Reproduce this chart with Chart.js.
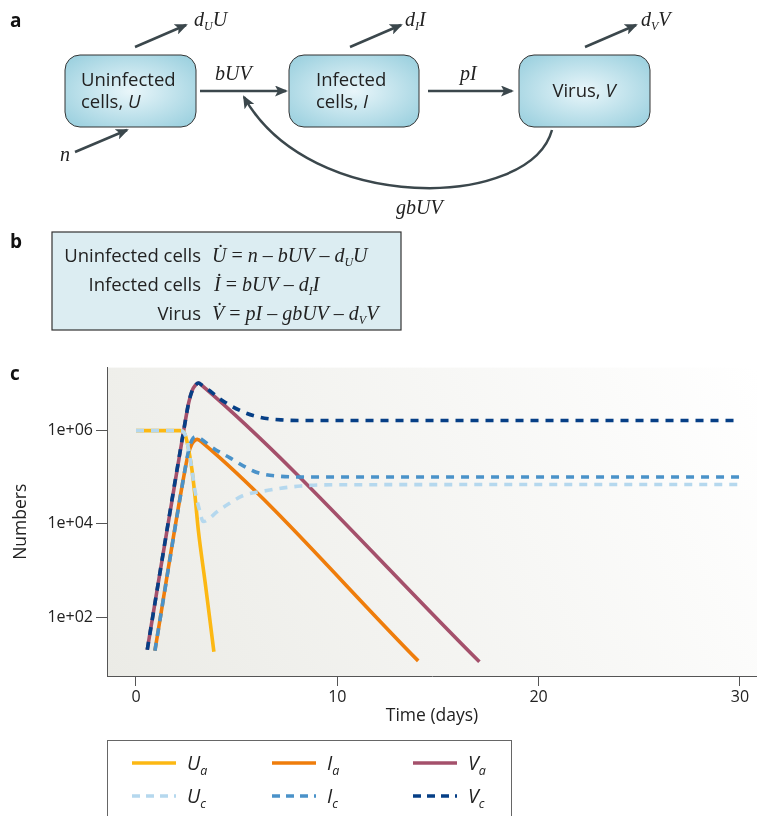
<!DOCTYPE html>
<html>
<head>
<meta charset="utf-8">
<script src="https://cdn.jsdelivr.net/npm/chart.js@4/dist/chart.umd.min.js"></script>
<style>
  html, body { margin: 0; padding: 0; background: #fff; }
  body { width: 757px; height: 816px; position: relative; overflow: hidden; }
  #chart { position: absolute; left: 0; top: 355px; z-index: 1; }
  #art { position: absolute; left: 0; top: 0; z-index: 2; }
  .sans { font-family: "Open Sans", sans-serif; fill: #222; }
  .m { font-family: "Liberation Serif", serif; font-style: italic; fill: #222; }
  .up { font-style: normal; }
  .lab { font-family: "Open Sans", sans-serif; font-weight: bold; font-size: 19px; fill: #111; }
</style>
</head>
<body>
<canvas id="chart" width="757" height="380"></canvas>

<svg id="art" width="757" height="816">
  <defs>
    <radialGradient id="boxg" cx="50%" cy="50%" r="62%">
      <stop offset="0" stop-color="#e9f6fa"/>
      <stop offset="1" stop-color="#9fd2e0"/>
    </radialGradient>
    <marker id="ah" markerWidth="13" markerHeight="11" refX="11" refY="5.5" orient="auto" markerUnits="userSpaceOnUse">
      <path d="M0,0 L13,5.5 L0,11 L3,5.5 z" fill="#3b474c"/>
    </marker>
  </defs>

  <!-- panel a -->
  <text class="lab" x="10" y="27">a</text>
  <rect x="65" y="55" width="131" height="72" rx="15" fill="url(#boxg)" stroke="#333" stroke-width="1"/>
  <rect x="289" y="55" width="130" height="72" rx="15" fill="url(#boxg)" stroke="#333" stroke-width="1"/>
  <rect x="519" y="55" width="131" height="72" rx="15" fill="url(#boxg)" stroke="#333" stroke-width="1"/>
  <text class="sans" x="81" y="86" font-size="18.5">Uninfected</text>
  <text class="sans" x="81" y="108" font-size="18.5">cells, <tspan font-style="italic">U</tspan></text>
  <text class="sans" x="316" y="86" font-size="18.5">Infected</text>
  <text class="sans" x="316" y="108" font-size="18.5">cells, <tspan font-style="italic">I</tspan></text>
  <text class="sans" x="584" y="97" font-size="18.5" text-anchor="middle">Virus, <tspan font-style="italic">V</tspan></text>

  <g stroke="#3b474c" stroke-width="2.5" fill="none" marker-end="url(#ah)">
    <line x1="200" y1="91" x2="286" y2="91"/>
    <line x1="428" y1="91" x2="512" y2="91"/>
    <line x1="135" y1="47" x2="186" y2="25"/>
    <line x1="350" y1="47" x2="401" y2="25"/>
    <line x1="585" y1="47" x2="636" y2="25"/>
    <line x1="75" y1="152" x2="127" y2="130"/>
    <path d="M552,130 C530,210 310,215 244,97"/>
  </g>
  <text class="m" x="215" y="80" font-size="20">bUV</text>
  <text class="m" x="460" y="80" font-size="20">pI</text>
  <text class="m" x="396" y="214" font-size="20">gbUV</text>
  <text class="m" x="60" y="161" font-size="20">n</text>
  <text class="m" x="194" y="26" font-size="20">d<tspan font-size="12" dy="4">U</tspan><tspan dy="-4">U</tspan></text>
  <text class="m" x="405" y="26" font-size="20">d<tspan font-size="12" dy="4">I</tspan><tspan dy="-4">I</tspan></text>
  <text class="m" x="641" y="26" font-size="20">d<tspan font-size="12" dy="4">V</tspan><tspan dy="-4">V</tspan></text>

  <!-- panel b -->
  <text class="lab" x="10" y="248">b</text>
  <rect x="52" y="232" width="349" height="98" fill="#dcedf2" stroke="#333" stroke-width="1.2"/>
  <text class="sans" x="201" y="262" font-size="18.5" text-anchor="end">Uninfected cells</text>
  <text class="sans" x="201" y="291" font-size="18.5" text-anchor="end">Infected cells</text>
  <text class="sans" x="201" y="320" font-size="18.5" text-anchor="end">Virus</text>
  <text class="m" x="212" y="262" font-size="20">U&#775;<tspan class="up"> = </tspan>n<tspan class="up"> – </tspan>bUV<tspan class="up"> – </tspan>d<tspan font-size="12" dy="4">U</tspan><tspan dy="-4">U</tspan></text>
  <text class="m" x="214" y="291" font-size="20">&#304;<tspan class="up"> = </tspan>bUV<tspan class="up"> – </tspan>d<tspan font-size="12" dy="4">I</tspan><tspan dy="-4">I</tspan></text>
  <text class="m" x="212" y="320" font-size="20">V&#775;<tspan class="up"> = </tspan>pI<tspan class="up"> – </tspan>gbUV<tspan class="up"> – </tspan>d<tspan font-size="12" dy="4">V</tspan><tspan dy="-4">V</tspan></text>

  <!-- panel c label -->
  <text class="lab" x="10" y="380">c</text>

  <!-- legend -->
  <g id="legend"></g>
</svg>

<script>
// ── Data (time in days, numbers on a log scale) ────────────────────────────
const tUa = [0, 2.19, 2.4, 2.52, 2.77, 2.93, 3.1, 3.43, 3.87];
const Ua = [1.0e6, 1.0e6, 8.9e5, 6.2e5, 1.55e5, 4.0e4, 7.1e3, 5.8e2, 18];

const tUc = [0, 2.19, 2.4, 2.52, 2.77, 2.93, 3.15, 3.34, 3.6, 4.0, 4.67, 5.3, 6.5, 8.2, 10, 30];
const Uc = [1.0e6, 1.0e6, 8.9e5, 6.2e5, 1.55e5, 5.2e4, 2.0e4, 1.12e4, 1.26e4, 1.78e4, 2.8e4, 4.0e4, 5.2e4, 6.5e4, 6.9e4, 7.0e4];

const tIa = [0.94, 2.4, 2.6, 2.78, 2.95, 3.05, 3.3, 14.02];
const Ia = [19, 1.2e5, 3.2e5, 5.2e5, 6.3e5, 6.5e5, 5.5e5, 11.5];

const tIc = [0.94, 2.4, 2.6, 2.78, 2.95, 3.1, 3.3, 3.84, 4.67, 5.5, 6.1, 7.15, 8.5, 30];
const Ic = [19, 1.2e5, 3.5e5, 6.3e5, 7.4e5, 7.2e5, 6.3e5, 4.2e5, 2.6e5, 1.6e5, 1.23e5, 1.05e5, 1.01e5, 1.01e5];

const tVa = [0.56, 2.4, 2.62, 2.8, 2.95, 3.1, 3.3, 17.06];
const Va = [20, 1.2e6, 4.0e6, 7.4e6, 9.4e6, 1.05e7, 9.1e6, 11];

const tVc = [0.56, 2.4, 2.62, 2.8, 2.95, 3.1, 3.3, 3.68, 4.17, 5.17, 6.0, 7.2, 8.5, 30];
const Vc = [20, 1.2e6, 4.0e6, 7.4e6, 9.4e6, 1.05e7, 9.3e6, 7.1e6, 4.8e6, 2.7e6, 2.0e6, 1.7e6, 1.65e6, 1.65e6];

const xTicks = [0, 10, 20, 30];
const yTicks = [1e2, 1e4, 1e6];
const yTickLabels = ["1e+02", "1e+04", "1e+06"];

const COLORS = {
  Ua: "#fcb813",
  Uc: "#b5d8ee",
  Ia: "#ef7d0b",
  Ic: "#4a92c9",
  Va: "#a4506b",
  Vc: "#063f86",
  axis: "#555",
  text: "#222",
};

const SERIES = [
  { key: "Ua", name: "U", sub: "a", t: tUa, v: Ua, dashed: false },
  { key: "Ia", name: "I", sub: "a", t: tIa, v: Ia, dashed: false },
  { key: "Va", name: "V", sub: "a", t: tVa, v: Va, dashed: false },
  { key: "Uc", name: "U", sub: "c", t: tUc, v: Uc, dashed: true },
  { key: "Ic", name: "I", sub: "c", t: tIc, v: Ic, dashed: true },
  { key: "Vc", name: "V", sub: "c", t: tVc, v: Vc, dashed: true },
];

Chart.defaults.font.family = "'Open Sans', sans-serif";
Chart.defaults.color = COLORS.text;

// light grey-to-white wash behind the plot
const plotBackground = {
  id: "plotBackground",
  beforeDraw(chart) {
    const { ctx, chartArea: a } = chart;
    const g = ctx.createLinearGradient(a.left, a.bottom, a.right, a.top);
    g.addColorStop(0, "#ebebe6");
    g.addColorStop(1, "#ffffff");
    ctx.save();
    ctx.fillStyle = g;
    ctx.fillRect(a.left, a.top, a.right - a.left, a.bottom - a.top);
    ctx.restore();
  },
};

const datasets = SERIES.map((s) => ({
  label: s.name + s.sub,
  data: s.t.map((t, i) => ({ x: t, y: s.v[i] })),
  borderColor: COLORS[s.key],
  borderWidth: 3.6,
  borderDash: s.dashed ? [8, 7] : [],
  borderCapStyle: "butt",
  pointRadius: 0,
  fill: false,
  cubicInterpolationMode: "monotone",
  order: s.dashed ? 0 : 1,
}));

new Chart(document.getElementById("chart"), {
  type: "line",
  data: { datasets },
  plugins: [plotBackground],
  options: {
    responsive: false,
    animation: false,
    devicePixelRatio: 1,
    layout: { padding: { top: 8, right: 0, bottom: 0, left: 0 } },
    plugins: { legend: { display: false }, tooltip: { enabled: false } },
    scales: {
      x: {
        type: "linear",
        min: -1.44,
        max: 30.85,
        afterBuildTicks: (s) => { s.ticks = xTicks.map((v) => ({ value: v })); },
        afterFit: (s) => { s.height = 59; },
        ticks: { font: { size: 16 }, padding: 2, maxRotation: 0, autoSkip: false, color: COLORS.text },
        grid: { display: true, drawOnChartArea: false, drawTicks: true, tickLength: 10, color: COLORS.axis },
        border: { display: true, color: COLORS.axis, width: 1 },
        title: { display: true, text: "Time (days)", font: { size: 17.5 }, color: COLORS.text, padding: { top: 0, bottom: 8 } },
      },
      y: {
        type: "logarithmic",
        min: 5.45,
        max: 2.25e7,
        afterBuildTicks: (s) => { s.ticks = yTicks.map((v) => ({ value: v })); },
        afterFit: (s) => { s.width = 107; },
        ticks: { font: { size: 16 }, padding: 3, color: COLORS.text, callback: (v, i) => yTickLabels[i] },
        grid: { display: true, drawOnChartArea: false, drawTicks: true, tickLength: 11, color: COLORS.axis },
        border: { display: true, color: COLORS.axis, width: 1 },
        title: { display: true, text: "Numbers", font: { size: 17.5 }, color: COLORS.text, padding: { top: 11, bottom: 0 } },
      },
    },
  },
});

// ── Legend (drawn as SVG so the subscripts stay real text) ─────────────────
const NS = "http://www.w3.org/2000/svg";
const leg = document.getElementById("legend");
function el(tag, attrs, parent) {
  const e = document.createElementNS(NS, tag);
  for (const k in attrs) e.setAttribute(k, attrs[k]);
  parent.appendChild(e);
  return e;
}
el("rect", { x: 107.5, y: 740.5, width: 404, height: 100, fill: "#fff", stroke: "#666", "stroke-width": 1 }, leg);
const colX = [132, 272, 413];
const rowY = [763, 796];
SERIES.forEach((s, i) => {
  const cx = colX[i % 3];
  const cy = rowY[s.dashed ? 1 : 0];
  el("line", {
    x1: cx, y1: cy, x2: cx + 44, y2: cy,
    stroke: COLORS[s.key], "stroke-width": 3.6,
    "stroke-dasharray": s.dashed ? "8 6" : "none",
  }, leg);
  const tx = el("text", { x: cx + 55, y: cy + 7, "font-size": 19.5, "font-style": "italic", class: "sans" }, leg);
  tx.textContent = s.name;
  const sb = el("tspan", { "font-size": 12.5, dy: 5 }, tx);
  sb.textContent = s.sub;
});
</script>
</body>
</html>
